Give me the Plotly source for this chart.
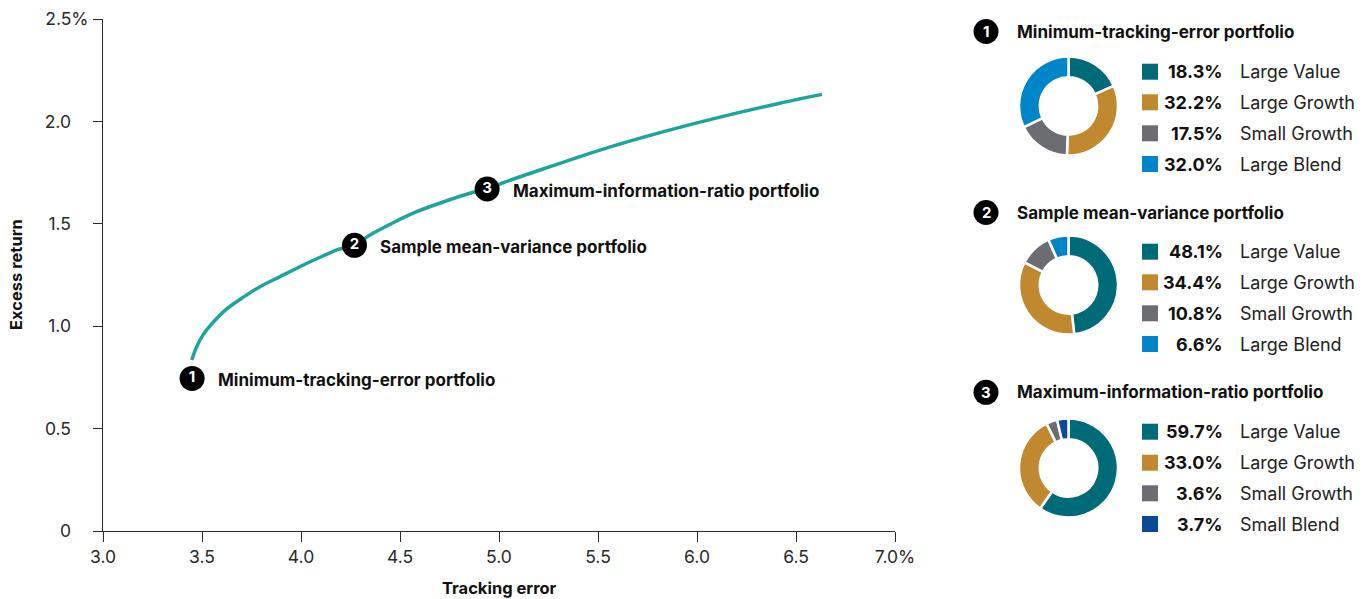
import plotly.graph_objects as go

# ---- Efficient frontier (tracking error vs. excess return, %) ----
tracking_error = [3.448, 3.473, 3.507, 3.557, 3.625, 3.709, 3.793, 3.894, 4.012,
                  4.113, 4.188, 4.273, 4.348, 4.584, 4.854, 4.938, 5.022, 5.258,
                  5.510, 5.813, 6.116, 6.419, 6.631]
excess_return = [0.835, 0.900, 0.960, 1.020, 1.085, 1.142, 1.193, 1.242, 1.299,
                 1.344, 1.375, 1.396, 1.445, 1.559, 1.649, 1.668, 1.701, 1.779,
                 1.860, 1.945, 2.021, 2.089, 2.132]

# ---- Highlighted portfolios ----
portfolio_ids = ["1", "2", "3"]
portfolio_names = ["Minimum-tracking-error portfolio",
                   "Sample mean-variance portfolio",
                   "Maximum-information-ratio portfolio"]
portfolio_te = [3.45, 4.27, 4.94]
portfolio_ret = [0.745, 1.395, 1.67]

# ---- Allocations ----
min_te_styles = ["Large Value", "Large Growth", "Small Growth", "Large Blend"]
min_te_weights = [18.3, 32.2, 17.5, 32.0]
mean_var_styles = ["Large Value", "Large Growth", "Small Growth", "Large Blend"]
mean_var_weights = [48.1, 34.4, 10.8, 6.6]
max_ir_styles = ["Large Value", "Large Growth", "Small Growth", "Small Blend"]
max_ir_weights = [59.7, 33.0, 3.6, 3.7]

# ---- Axis ticks ----
x_ticks = [3.0, 3.5, 4.0, 4.5, 5.0, 5.5, 6.0, 6.5, 7.0]
x_tick_text = ["3.0", "3.5", "4.0", "4.5", "5.0", "5.5", "6.0", "6.5", "7.0%"]
y_ticks = [0, 0.5, 1.0, 1.5, 2.0, 2.5]
y_tick_text = ["0", "0.5", "1.0", "1.5", "2.0", "2.5%"]

STYLE_COLORS = {
    "Large Value": "#006B78",
    "Large Growth": "#C0882F",
    "Small Growth": "#6C6D72",
    "Large Blend": "#0086C8",
    "Small Blend": "#0B4A96",
}
LINE_COLOR = "#1DA59B"
FONT = "Inter"
W, H = 1367, 599


def px(x):
    return x / W


def py(y):
    return 1 - y / H


# y labels: digits line up on the right, the "%" hangs past them
y_tick_display = [t if t.endswith("%") else t + "\u2003" for t in y_tick_text]

fig = go.Figure()

fig.add_trace(go.Scatter(
    x=tracking_error, y=excess_return, mode="lines",
    line=dict(color=LINE_COLOR, width=3.5, shape="spline", smoothing=0.8),
    hoverinfo="skip", showlegend=False,
))

fig.add_trace(go.Scatter(
    x=portfolio_te, y=portfolio_ret, mode="markers+text",
    marker=dict(size=25, color="#000000"),
    text=portfolio_ids, textposition="middle center",
    textfont=dict(family=FONT, size=15, color="#FFFFFF", weight="bold"),
    hoverinfo="skip", showlegend=False,
))

annotations = []
for te, ret, name in zip(portfolio_te, portfolio_ret, portfolio_names):
    annotations.append(dict(
        x=te, y=ret, xref="x", yref="y", text=name, showarrow=False,
        xanchor="left", yanchor="middle", xshift=24, yshift=-2,
        font=dict(family=FONT, size=17, color="#111111", weight="bold"),
    ))

# Axis titles
annotations.append(dict(
    x=px(499), y=py(588), xref="paper", yref="paper", text="Tracking error",
    showarrow=False, xanchor="center", yanchor="middle",
    font=dict(family=FONT, size=16.5, color="#111111", weight="bold"),
))
annotations.append(dict(
    x=px(16), y=py(275), xref="paper", yref="paper", text="Excess return",
    showarrow=False, xanchor="center", yanchor="middle", textangle=-90,
    font=dict(family=FONT, size=16.5, color="#111111", weight="bold"),
))

shapes = []

# ---- Allocation donuts with legends ----
panels = [
    (min_te_styles, min_te_weights, 31.5, 106, [71.7, 102.3, 133.3, 164.0]),
    (mean_var_styles, mean_var_weights, 212.5, 285, [251.7, 282.3, 313.3, 344.0]),
    (max_ir_styles, max_ir_weights, 392.3, 468, [431.7, 462.7, 493.3, 524.0]),
]
R = 49.5
CX = 1068.5
for pid, name, (styles, weights, title_y, cy, row_ys) in zip(portfolio_ids, portfolio_names, panels):
    fig.add_trace(go.Pie(
        labels=styles, values=weights, sort=False, direction="clockwise",
        rotation=0, hole=0.58,
        marker=dict(colors=[STYLE_COLORS[s] for s in styles],
                    line=dict(color="#FFFFFF", width=2.5)),
        textinfo="none", hoverinfo="skip", showlegend=False,
        domain=dict(x=[px(CX - R), px(CX + R)], y=[py(cy + R), py(cy - R)]),
    ))
    # numbered badge + title
    shapes.append(dict(
        type="circle", xref="paper", yref="paper",
        x0=px(986 - 12.5), x1=px(986 + 12.5), y0=py(title_y + 12.5), y1=py(title_y - 12.5),
        fillcolor="#000000", line=dict(width=0),
    ))
    annotations.append(dict(
        x=px(986), y=py(title_y), xref="paper", yref="paper", text=pid,
        showarrow=False, xanchor="center", yanchor="middle",
        font=dict(family=FONT, size=15, color="#FFFFFF", weight="bold"),
    ))
    annotations.append(dict(
        x=px(1015), y=py(title_y), xref="paper", yref="paper", text=name,
        showarrow=False, xanchor="left", yanchor="middle",
        font=dict(family=FONT, size=17, color="#111111", weight="bold"),
    ))
    for s, w, ry in zip(styles, weights, row_ys):
        shapes.append(dict(
            type="rect", xref="paper", yref="paper",
            x0=px(1142), x1=px(1158), y0=py(ry + 8), y1=py(ry - 8),
            fillcolor=STYLE_COLORS[s], line=dict(width=0),
        ))
        annotations.append(dict(
            x=px(1225), y=py(ry), xref="paper", yref="paper", text=f"{w:.1f}%",
            showarrow=False, xanchor="right", yanchor="middle",
            font=dict(family=FONT, size=18, color="#111111", weight="bold"),
        ))
        annotations.append(dict(
            x=px(1238), y=py(ry), xref="paper", yref="paper", text=s,
            showarrow=False, xanchor="left", yanchor="middle",
            font=dict(family=FONT, size=18, color="#222222"),
        ))

fig.update_layout(
    template="none",
    width=W, height=H, autosize=False,
    margin=dict(l=0, r=0, t=0, b=0, pad=0, autoexpand=False),
    paper_bgcolor="#FFFFFF", plot_bgcolor="#FFFFFF",
    font=dict(family=FONT, size=17, color="#2A2A2A"),
    showlegend=False,
    xaxis=dict(
        domain=[px(103), px(895)], range=[3.0, 7.0], automargin=False,
        tickvals=x_ticks, ticktext=x_tick_text,
        showgrid=False, zeroline=False, showline=True, linecolor="#2A2A2A", linewidth=1,
        ticks="outside", ticklen=10, tickcolor="#2A2A2A", tickwidth=1,
        tickfont=dict(family=FONT, size=17.5, color="#2A2A2A"),
        fixedrange=True,
    ),
    yaxis=dict(
        domain=[py(531), py(19)], range=[0, 2.5], automargin=False,
        tickvals=y_ticks, ticktext=y_tick_display,
        showgrid=False, zeroline=False, showline=True, linecolor="#2A2A2A", linewidth=1,
        ticks="outside", ticklen=9, tickcolor="#2A2A2A", tickwidth=1,
        tickfont=dict(family=FONT, size=17.5, color="#2A2A2A"),
        ticklabelstandoff=1,
        fixedrange=True,
    ),
    shapes=shapes,
    annotations=annotations,
)

fig.write_html("out.html")
